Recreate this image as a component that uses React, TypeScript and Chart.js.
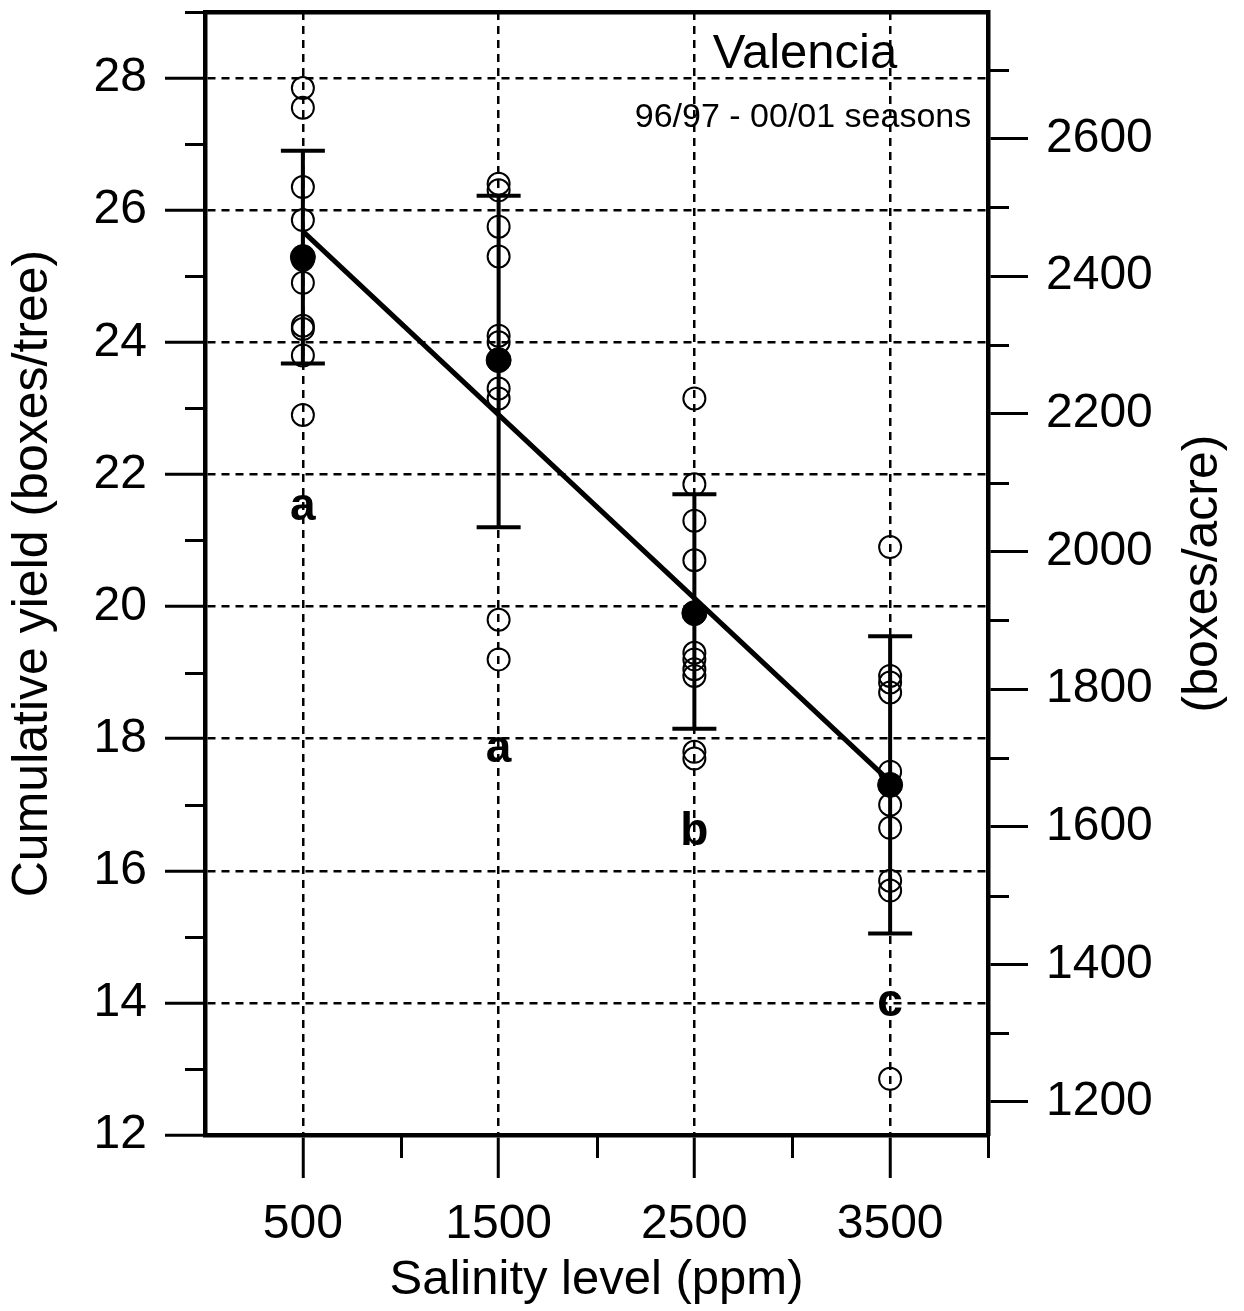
import React, { useEffect, useRef } from 'react';
import { Chart, registerables } from 'chart.js';

Chart.register(...registerables);

// ---- data ----
const SALINITY = [500, 1500, 2500, 3500];
const YIELD_500 = [27.85, 27.55, 26.35, 25.85, 25.25, 24.9, 24.25, 24.2, 23.8, 22.9];
const YIELD_1500 = [26.4, 26.3, 25.75, 25.3, 24.1, 24.0, 23.3, 23.15, 19.8, 19.2];
const YIELD_2500 = [23.15, 21.85, 21.3, 20.7, 19.3, 19.2, 19.05, 18.95, 17.8, 17.7];
const YIELD_3500 = [20.9, 18.95, 18.85, 18.7, 17.5, 17.0, 16.65, 15.85, 15.7, 12.85];
const RAW = [YIELD_500, YIELD_1500, YIELD_2500, YIELD_3500];
const MEANS = [25.29, 23.73, 19.9, 17.3];
const ERR_LOW = [23.68, 21.2, 18.15, 15.05];
const ERR_HIGH = [26.9, 26.22, 21.7, 19.55];
const FIT_X = [500, 3500];
const FIT_Y = [25.68, 17.35];
const LETTERS = ['a', 'a', 'b', 'c'];
const LETTER_Y = [21.31, 17.65, 16.39, 13.8];

// ---- axes ----
const X_MIN = 0;
const X_MAX = 4000;
const X_TICKS = [500, 1500, 2500, 3500];
const X_MINOR = [1000, 2000, 3000, 4000];
const Y_MIN = 12;
const Y_MAX = 29;
const Y_TICKS = [12, 14, 16, 18, 20, 22, 24, 26, 28];
const Y_MINOR = [13, 15, 17, 19, 21, 23, 25, 27, 29];
const TREES_PER_ACRE = 96;
const ACRE_TICKS = [1200, 1400, 1600, 1800, 2000, 2200, 2400, 2600];
const ACRE_MINOR = [1300, 1500, 1700, 1900, 2100, 2300, 2500, 2700];

const TITLE = 'Valencia';
const SUBTITLE = '96/97 - 00/01 seasons';
const X_TITLE = 'Salinity level (ppm)';
const Y_TITLE = 'Cumulative yield (boxes/tree)';
const Y2_TITLE = '(boxes/acre)';

const FONT = "'Liberation Sans', Arial, sans-serif";

const extrasPlugin = {
  id: 'extras',
  afterDraw(chart: any) {
    const { ctx, chartArea, scales } = chart;
    const x = scales.x;
    const y = scales.y;
    const y2 = scales.y2;
    ctx.save();
    ctx.strokeStyle = '#000';
    ctx.lineWidth = 3;
    // minor ticks
    ctx.beginPath();
    Y_MINOR.forEach((v) => {
      const p = Math.round(y.getPixelForValue(v)) + 0.5;
      ctx.moveTo(chartArea.left - 20, p);
      ctx.lineTo(chartArea.left, p);
    });
    ACRE_MINOR.forEach((v) => {
      const p = Math.round(y2.getPixelForValue(v)) + 0.5;
      ctx.moveTo(chartArea.right, p);
      ctx.lineTo(chartArea.right + 21, p);
    });
    X_MINOR.forEach((v) => {
      const p = Math.round(x.getPixelForValue(v)) + 0.5;
      ctx.moveTo(p, chartArea.bottom);
      ctx.lineTo(p, chartArea.bottom + 23);
    });
    ctx.stroke();

    ctx.fillStyle = '#000';
    // group letters
    ctx.font = `bold 46px ${FONT}`;
    ctx.textAlign = 'center';
    ctx.textBaseline = 'alphabetic';
    LETTERS.forEach((t, i) => {
      ctx.fillText(t, x.getPixelForValue(SALINITY[i]), y.getPixelForValue(LETTER_Y[i]));
    });

    // title block
    const cx = chartArea.left + 600;
    ctx.font = `49px ${FONT}`;
    ctx.fillText(TITLE, cx, chartArea.top + 56);
    ctx.font = `34px ${FONT}`;
    ctx.fillText(SUBTITLE, cx - 2, chartArea.top + 115);

    // right axis title (reads bottom to top)
    ctx.translate(chartArea.right + 215, (chartArea.top + chartArea.bottom) / 2);
    ctx.rotate(-Math.PI / 2);
    ctx.font = `50px ${FONT}`;
    ctx.textBaseline = 'middle';
    ctx.fillText(Y2_TITLE, 0, 0);
    ctx.restore();
  },
};

export default function App() {
  const ref = useRef<HTMLCanvasElement | null>(null);

  useEffect(() => {
    const canvas = ref.current;
    if (!canvas) return;

    const rawPoints = SALINITY.flatMap((s, i) => RAW[i].map((v) => ({ x: s, y: v })));
    const meanPoints = SALINITY.map((s, i) => ({ x: s, y: MEANS[i] }));
    const errPoints = SALINITY.flatMap((s, i) => [
      { x: s, y: ERR_LOW[i] },
      { x: s, y: ERR_HIGH[i] },
      { x: s, y: null as any },
    ]);
    const fitPoints = FIT_X.map((s, i) => ({ x: s, y: FIT_Y[i] }));

    const noPad = (s: any) => {
      s.paddingTop = 0;
      s.paddingBottom = 0;
      s.paddingLeft = 0;
      s.paddingRight = 0;
    };

    const chart = new Chart(canvas, {
      type: 'scatter',
      data: {
        datasets: [
          {
            label: 'mean',
            data: meanPoints,
            pointRadius: 12.5,
            pointBackgroundColor: '#000',
            pointBorderColor: '#000',
            pointBorderWidth: 1,
          },
          {
            label: 'fit',
            data: fitPoints,
            showLine: true,
            borderColor: '#000',
            borderWidth: 5,
            pointRadius: 0,
          },
          {
            label: 'sd',
            data: errPoints,
            showLine: true,
            spanGaps: false,
            borderColor: '#000',
            borderWidth: 4,
            pointStyle: 'line',
            pointRadius: 22,
            pointBorderWidth: 4,
            pointBorderColor: '#000',
          },
          {
            label: 'raw',
            data: rawPoints,
            pointRadius: 11,
            pointBorderWidth: 2,
            pointBorderColor: '#000',
            pointBackgroundColor: 'rgba(0,0,0,0)',
          },
        ] as any,
      },
      options: {
        responsive: false,
        animation: false,
        devicePixelRatio: 1,
        layout: { padding: 0, autoPadding: false },
        plugins: {
          legend: { display: false },
          tooltip: { enabled: false },
        },
        scales: {
          x: {
            type: 'linear',
            position: 'bottom',
            min: X_MIN,
            max: X_MAX,
            afterBuildTicks: (s: any) => {
              s.ticks = X_TICKS.map((v) => ({ value: v }));
            },
            afterFit: (s: any) => {
              s.height = 176;
              noPad(s);
            },
            ticks: {
              color: '#000',
              font: { family: FONT, size: 48 },
              padding: 18,
              maxRotation: 0,
              autoSkip: false,
              callback: (v: any) => String(v),
            },
            grid: { color: '#000', lineWidth: 2.5, tickLength: 43, tickWidth: 3, tickColor: '#000' },
            border: { display: true, color: '#000', width: 4.5, dash: [8, 6] },
            title: {
              display: true,
              text: X_TITLE,
              color: '#000',
              font: { family: FONT, size: 49, lineHeight: 1 },
              padding: { top: 0, bottom: 6 },
            },
          },
          xTop: {
            type: 'linear',
            position: 'top',
            min: X_MIN,
            max: X_MAX,
            afterFit: (s: any) => {
              s.height = 12;
              noPad(s);
            },
            ticks: { display: false },
            grid: { display: false },
            border: { display: true, color: '#000', width: 4.5 },
          },
          y: {
            type: 'linear',
            position: 'left',
            min: Y_MIN,
            max: Y_MAX,
            afterBuildTicks: (s: any) => {
              s.ticks = Y_TICKS.map((v) => ({ value: v }));
            },
            afterFit: (s: any) => {
              s.width = 205;
              noPad(s);
            },
            ticks: {
              color: '#000',
              font: { family: FONT, size: 48 },
              padding: 18,
              autoSkip: false,
              callback: (v: any) => String(v),
            },
            grid: { color: '#000', lineWidth: 2.5, tickLength: 40, tickWidth: 3, tickColor: '#000' },
            border: { display: true, color: '#000', width: 4.5, dash: [8, 6] },
            title: {
              display: true,
              text: Y_TITLE,
              color: '#000',
              font: { family: FONT, size: 50, lineHeight: 1 },
              padding: { top: 8, bottom: 0 },
            },
          },
          y2: {
            type: 'linear',
            position: 'right',
            min: Y_MIN * TREES_PER_ACRE,
            max: Y_MAX * TREES_PER_ACRE,
            afterBuildTicks: (s: any) => {
              s.ticks = ACRE_TICKS.map((v) => ({ value: v }));
            },
            afterFit: (s: any) => {
              s.width = 256;
              noPad(s);
            },
            ticks: {
              color: '#000',
              font: { family: FONT, size: 48 },
              padding: 18,
              autoSkip: false,
              callback: (v: any) => String(v),
            },
            grid: { drawOnChartArea: false, color: '#000', tickLength: 40, tickWidth: 3, tickColor: '#000' },
            border: { display: true, color: '#000', width: 4.5 },
          },
        },
      } as any,
      plugins: [extrasPlugin],
    });

    return () => chart.destroy();
  }, []);

  return (
    <canvas
      ref={ref}
      width={1244}
      height={1311}
      style={{ position: 'absolute', left: 0, top: 0, width: 1244, height: 1311, background: '#fff' }}
    />
  );
}
